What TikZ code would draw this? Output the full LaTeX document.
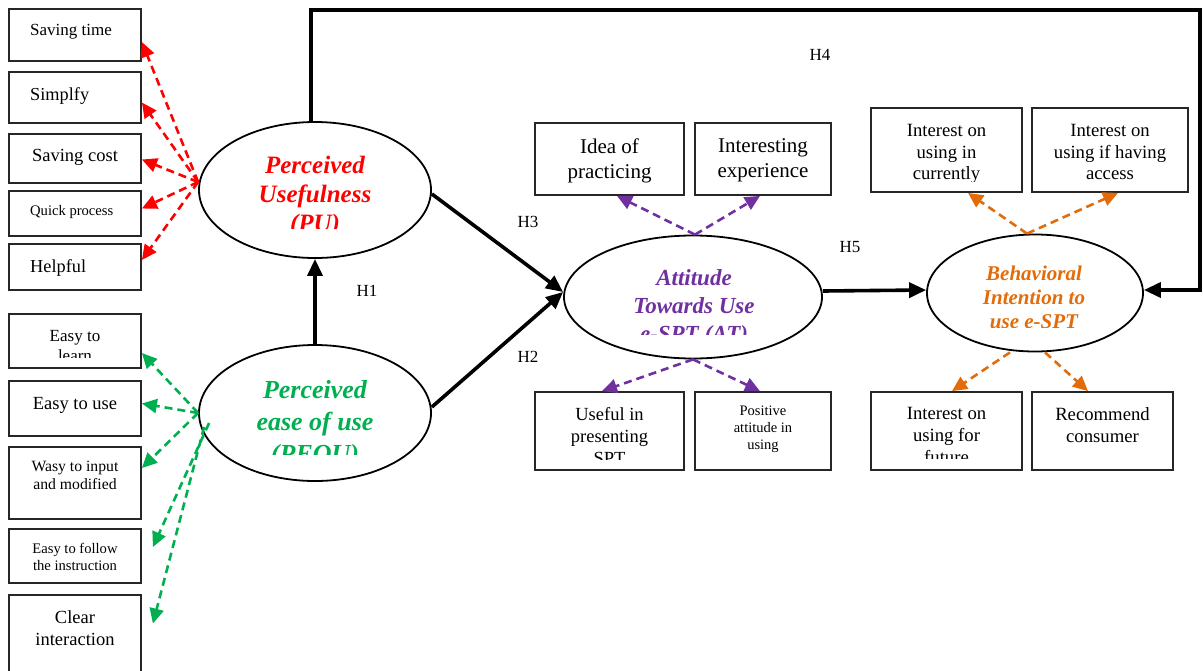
\documentclass[tikz,border=0pt]{standalone}
\usepackage{fontspec}
\setmainfont{Liberation Serif}
\usetikzlibrary{arrows.meta,shapes.geometric,fit}
\definecolor{cred}{RGB}{255,0,0}
\definecolor{cgreen}{RGB}{0,176,80}
\definecolor{cpurple}{RGB}{112,48,160}
\definecolor{corange}{RGB}{227,108,10}
\newcommand{\fs}[2]{\fontsize{#1}{#2}\selectfont}
\newcommand{\ctx}[6]{\begin{scope}\clip #1 rectangle #2; \node[#3] (#4) at #5 {#6};\end{scope}}
\tikzset{
 box/.style={draw=black!85, line width=1.8pt, inner sep=0pt, rectangle},
 ell/.style={draw, ellipse, line width=1.8pt, inner sep=0pt},
 txt/.style={inner sep=0pt, align=center, anchor=north},
 ltxt/.style={inner sep=0pt, anchor=north west},
 solidarrow/.style={line width=3.6pt, -{Triangle[length=17pt,width=15pt]}},
 dsh/.style={line width=2.6pt, dash pattern=on 8pt off 5pt, -{Triangle[length=15pt,width=14pt]}},
 hlab/.style={inner sep=0pt, font=\fs{17}{20}},
}
\begin{document}
\begin{tikzpicture}[x=1pt,y=-1pt]
\path[use as bounding box, fill=white] (0,0) rectangle (1203,670);

% left PU boxes
\node[box, fit={(9,9)(141,61)}] (st) {};
\node[box, fit={(9,72)(141,123)}] (sim) {};
\node[box, fit={(9,134)(141,183)}] (sc) {};
\node[box, fit={(9,191)(141,236)}] (qp) {};
\node[box, fit={(9,244)(141,290)}] (hp) {};
\node[ltxt, font=\fs{17}{20}] (st-t) at (30,24.4) {Saving time};
\node[ltxt, font=\fs{18.3}{22}] (sim-t) at (30,87.6) {Simplfy};
\node[txt, font=\fs{18.5}{22}] (sc-t) at (75,149.4) {Saving cost};
\node[ltxt, font=\fs{14.6}{17}] (qp-t) at (30,205.1) {Quick process};
\node[ltxt, font=\fs{18.3}{22}] (hp-t) at (30,259.6) {Helpful};

% left PEOU boxes
\node[box, fit={(9,314)(141,368)}] (el) {};
\node[box, fit={(9,381)(141,436)}] (eu) {};
\node[box, fit={(9,447)(141,519)}] (wi) {};
\node[box, fit={(9,529)(141,583)}] (ef) {};
\node[box, fit={(9,595)(141,676)}] (ci) {};
\ctx{(10,315)}{(140,357)}{txt, font=\fs{17}{20}}{el-t}{(75,330.4)}{Easy to\\learn}
\node[txt, font=\fs{18.5}{22}] (eu-t) at (75,397.4) {Easy to use};
\node[txt, font=\fs{15.7}{18}] (wi-t) at (75,461.3) {Wasy to input\\and modified};
\node[txt, font=\fs{14.6}{17}] (ef-t) at (75,543.1) {Easy to follow\\the instruction};
\node[txt, font=\fs{18.5}{22}] (ci-t) at (75,610.4) {Clear\\interaction};

% ellipses
\node[ell, minimum width=232pt, minimum height=136pt] (pu) at (315,190) {};
\node[ell, minimum width=232pt, minimum height=136pt] (peou) at (315,413) {};
\node[ell, minimum width=258pt, minimum height=123pt] (at) at (693,297) {};
\node[ell, minimum width=216pt, minimum height=117pt] (bi) at (1035,293) {};
\ctx{(200,123)}{(431,228)}{txt, font=\fs{25}{29}\bfseries\itshape, text=cred}{pu-t}{(315,156)}{Perceived\\Usefulness\\(PU)}
\ctx{(200,346)}{(431,454)}{txt, font=\fs{26}{32}\bfseries\itshape, text=cgreen}{peou-t}{(315,380.3)}{Perceived\\ease of use\\(PEOU)}
\ctx{(565,237)}{(821,334)}{txt, font=\fs{23}{28}\bfseries\itshape, text=cpurple}{at-t}{(694,269.4)}{Attitude\\Towards Use\\e-SPT (AT)}
\ctx{(928,236)}{(1142,327)}{txt, font=\fs{21}{24}\bfseries\itshape, text=corange}{bi-t}{(1034,265.7)}{Behavioral\\Intention to\\use e-SPT}

% AT boxes
\node[box, fit={(535,123)(684,195)}] (ip) {};
\node[box, fit={(695,123)(831,195)}] (ie) {};
\node[box, fit={(535,392)(684,470)}] (us) {};
\node[box, fit={(695,392)(831,470)}] (pa) {};
\node[txt, font=\fs{21}{25}] (ip-t) at (609.5,138.7) {Idea of\\practicing};
\node[txt, font=\fs{21}{25}] (ie-t) at (763,138.7) {Interesting\\experience};
\ctx{(536,393)}{(683,459)}{txt, font=\fs{18.5}{22}}{us-t}{(609.5,407.4)}{Useful in\\presenting\\SPT}
\node[txt, font=\fs{14.5}{17}] (pa-t) at (763,406.1) {Positive\\attitude in\\using};

% BI boxes
\node[box, fit={(871,108)(1022,192)}] (ic) {};
\node[box, fit={(1032,108)(1188,192)}] (ia) {};
\node[box, fit={(871,392)(1022,470)}] (iff) {};
\node[box, fit={(1032,392)(1173,470)}] (rc) {};
\ctx{(872,109)}{(1021,181)}{txt, font=\fs{18.7}{21.5}}{ic-t}{(946.5,124.3)}{Interest on\\using in\\currently}
\node[txt, font=\fs{18.7}{21.5}] (ia-t) at (1110,124.3) {Interest on\\using if having\\access};
\ctx{(872,393)}{(1021,458)}{txt, font=\fs{18.7}{22}}{iff-t}{(946.5,407.3)}{Interest on\\using for\\future};
\node[txt, font=\fs{18.7}{22}] (rc-t) at (1102.5,407.3) {Recommend\\consumer};

% solid paths
\coordinate (c1) at (1200,10);
\coordinate (c2) at (1200,290);
\draw[solidarrow] (peou.north) -- (pu.south);
\draw[solidarrow] ([yshift=-4pt]pu.east) -- ([yshift=5pt]at.west);
\draw[solidarrow] ([yshift=6pt]peou.east) -- ([yshift=5pt]at.west);
\draw[solidarrow] ([yshift=6pt]at.east) -- ([yshift=3pt]bi.west);
\draw[solidarrow] ([xshift=-4pt]pu.north) |- (c1) -- (c2) -- ([yshift=3pt]bi.east);

% H labels
\node[hlab] (h1) at (367,291) {H1};
\node[hlab] (h2) at (528,357) {H2};
\node[hlab] (h3) at (528,222) {H3};
\node[hlab] (h4) at (820,55) {H4};
\node[hlab] (h5) at (850,247) {H5};

% PU dashed
\begin{scope}[dsh, draw=cred, fill=cred]
\draw ([yshift=8pt]pu.west) -- ([yshift=-7pt]st.east);
\draw ([yshift=8pt]pu.west) -- ([yshift=-5pt]sim.east);
\draw ([yshift=8pt]pu.west) -- ([yshift=-1pt]sc.east);
\draw ([yshift=8pt]pu.west) -- ([yshift=5pt]qp.east);
\draw ([yshift=8pt]pu.west) -- ([yshift=7pt]hp.east);
\end{scope}
% PEOU dashed
\begin{scope}[dsh, draw=cgreen, fill=cgreen]
\draw (peou.west) -- ([yshift=-12pt]el.east);
\draw (peou.west) -- ([yshift=5pt]eu.east);
\draw (peou.west) -- ([yshift=15pt]wi.east);
\draw ([xshift=11pt,yshift=-10pt]peou.west) -- ([xshift=11pt,yshift=9pt]ef.east);
\draw ([xshift=6pt,yshift=-14pt]peou.west) -- ([xshift=11pt,yshift=12pt]ci.east);
\end{scope}
% AT dashed
\begin{scope}[dsh, draw=cpurple, fill=cpurple]
\draw ([xshift=2pt]at.north) -- ([xshift=7.5pt]ip.south);
\draw ([xshift=2pt]at.north) -- ([xshift=-3pt]ie.south);
\draw (at.south) -- ([xshift=-7.5pt]us.north);
\draw (at.south) -- ([xshift=-3pt]pa.north);
\end{scope}
% BI dashed
\begin{scope}[dsh, draw=corange, fill=corange]
\draw ([xshift=-8pt]bi.north) -- ([xshift=21.5pt]ic.south);
\draw ([xshift=-8pt]bi.north) -- ([xshift=8pt]ia.south);
\draw ([xshift=-25pt]bi.south) -- ([xshift=5.5pt]iff.north);
\draw ([xshift=10pt]bi.south) -- ([xshift=-14.5pt]rc.north);
\end{scope}
\end{tikzpicture}
\end{document}
